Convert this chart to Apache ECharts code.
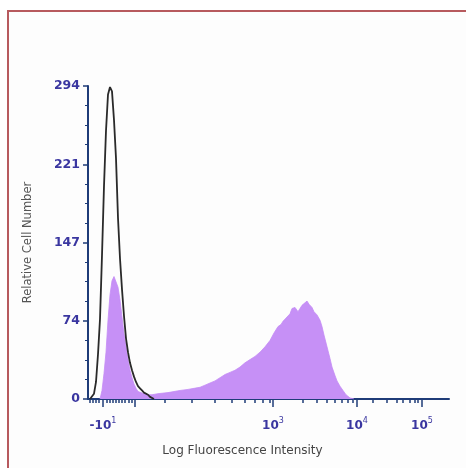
<!DOCTYPE html>
<html><head><meta charset="utf-8">
<script src="https://cdn.jsdelivr.net/npm/echarts@6/dist/echarts.min.js"></script>
<style>html,body{margin:0;padding:0;background:#fff}#c{width:466px;height:468px}</style>
</head><body><div id="c"></div>
<script>
// x in display channels of the (biexponential) fluorescence axis, y = cell counts
const controlX = [2,4,6,8,10,12,14,16,18,20,22,23,24,26,28,30,32,34,36,38,40,42,44,46,48,50,52,54,56,58,60,62,64,66];
const controlY = [0,1,5,16,42,75,135,200,252,286,293,294,289,262,226,170,132,103,78,57,44,34,27,21,16,12,10,8,6,5,4,2,1,0];
const sampleX = [12,14,16,18,20,22,24,26,27,28,30,32,34,36,38,40,42,44,46,48,50,52,56,60,64,70,80,92,100,106,112,117,122,127,132,137,142,147,152,157,162,167,172,177,182,186,190,193,195,199,202,204,206,207,209,210,212,214,216,219,221,224,226,229,232,234,236,239,242,244,247,249,252,255,258,262,266];
const sampleY = [0,8,24,44,74,98,111,115,116,114,105,93,77,61,49,37,27,20,14,10,7,6,5,4,4,5,6,8,9,10,11,13,15,17,20,23,25,27,30,34,37,40,44,49,55,62,68,70,73,77,80,85,84,86,85,82,85,88,89,92,89,86,82,79,74,68,60,49,38,30,22,17,12,8,4,1,0];
const xMin = 0, xMax = 361;
const yMin = 0, yMax = 294, yStep = 73.5;
const xMajorTicks = [15,47,185,269,334];
const xMinorTicks = [2,5,8,11,19,22,25,28,31,34,37,41,44,77,104,127,144,157,167,175,182,215,229,239,247,254,260,265,285,299,309,315,322,327,330];
const xLabelPos = [15,185,269,334];
const xLabelBase = ['-10','10','10','10'];
const xLabelExp = ['1','3','4','5'];
const xTitle = 'Log Fluorescence Intensity';
const yTitle = 'Relative Cell Number';

const navy = '#1f3c78';
const labelBlue = '#3a36a0';
const chart = echarts.init(document.getElementById('c'));
chart.setOption({
  backgroundColor: '#fff',
  animation: false,
  graphic: [{
    type: 'rect', z: -10, silent: true,
    shape: {x: 8, y: 11, width: 480, height: 480},
    style: {fill: '#fdfdfd', stroke: '#b75a5e', lineWidth: 2}
  }],
  grid: {left: 88, right: 17, top: 86, bottom: 69},
  xAxis: [{
    type: 'value', min: xMin, max: xMax,
    name: xTitle, nameLocation: 'middle', nameGap: 46,
    nameTextStyle: {fontFamily: 'DejaVu Sans', fontSize: 12, color: '#444', padding: [0, 52, 0, 0]},
    axisLine: {show: true, lineStyle: {color: navy, width: 2}},
    axisTick: {show: true, customValues: xMinorTicks, length: 4, lineStyle: {color: navy, width: 1.5}},
    splitLine: {show: false},
    axisLabel: {
      customValues: xLabelPos, margin: 18,
      formatter: v => { const i = xLabelPos.indexOf(v); return i < 0 ? '' : '{b|' + xLabelBase[i] + '}{s|' + xLabelExp[i] + '}'; },
      rich: {
        b: {fontFamily: 'DejaVu Sans', fontSize: 12, fontWeight: 'bold', color: labelBlue},
        s: {fontFamily: 'DejaVu Sans', fontSize: 8, color: labelBlue, verticalAlign: 'top', padding: [0, 0, 9, 0]}
      }
    }
  }, {
    type: 'value', min: xMin, max: xMax, position: 'bottom',
    axisLine: {show: false},
    axisTick: {show: true, customValues: xMajorTicks, length: 8, lineStyle: {color: navy, width: 1.5}},
    axisLabel: {show: false}, splitLine: {show: false}
  }],
  yAxis: {
    type: 'value', min: yMin, max: yMax, interval: yStep,
    name: yTitle, nameLocation: 'middle', nameGap: 54,
    nameTextStyle: {fontFamily: 'DejaVu Sans', fontSize: 11.5, color: '#555'},
    axisLine: {show: true, lineStyle: {color: navy, width: 2}},
    axisTick: {show: true, length: 5, lineStyle: {color: navy, width: 1.5}},
    minorTick: {show: true, splitNumber: 4, length: 3, lineStyle: {color: navy, width: 1}},
    splitLine: {show: false},
    axisLabel: {margin: 8, fontFamily: 'DejaVu Sans', fontSize: 12.5, fontWeight: 'bold', color: labelBlue,
      formatter: v => String(Math.round(v))}
  },
  series: [{
    type: 'line', xAxisIndex: 0, showSymbol: false, z: 2,
    data: sampleX.map((x, i) => [x, sampleY[i]]),
    lineStyle: {width: 0.8, color: '#c48cf5'},
    areaStyle: {color: '#c690f6', opacity: 1}
  }, {
    type: 'line', xAxisIndex: 0, showSymbol: false, z: 3,
    data: controlX.map((x, i) => [x, controlY[i]]),
    lineStyle: {width: 1.8, color: '#2a2a2a'}
  }]
});
</script></body></html>
